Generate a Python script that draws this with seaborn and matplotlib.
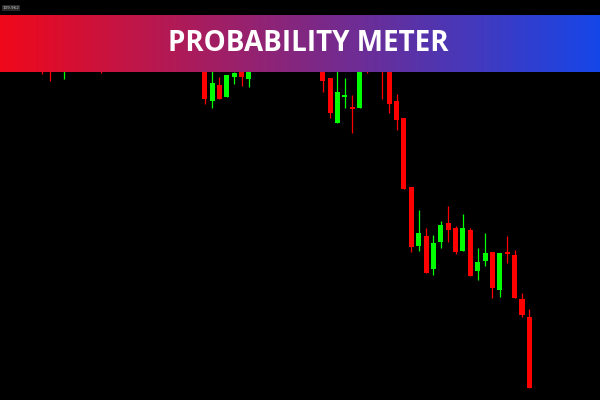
import numpy as np
import pandas as pd
import matplotlib
matplotlib.use("Agg")
import matplotlib.pyplot as plt
import seaborn as sns

# --- candle data (oldest -> newest) ---
opens = [109.60, 109.55, 109.36, 109.32, 109.58, 109.42, 109.62, 109.50, 109.45, 109.36,
         109.50, 109.60, 109.48, 109.62, 109.54, 109.42, 109.55, 109.67, 109.56, 109.45,
         109.58, 109.50, 109.42, 108.99, 109.15, 109.027, 109.232, 109.34, 109.21, 109.34,
         109.46, 109.60, 109.50, 109.64, 109.56, 109.48, 109.38, 109.52, 109.40, 109.217,
         108.77, 109.03, 108.93, 108.923, 109.60, 109.36, 109.58, 109.40, 108.993, 108.823,
         108.127, 107.543, 107.64, 107.31, 107.58, 107.77, 107.723, 107.493, 107.703, 107.29,
         107.393, 107.48, 107.10, 107.483, 107.45, 107.007, 106.833]
highs = [109.65, 109.60, 109.55, 109.62, 109.64, 109.68, 109.70, 109.54, 109.50, 109.58,
         109.67, 109.66, 109.72, 109.70, 109.58, 109.62, 109.74, 109.72, 109.60, 109.63,
         109.64, 109.54, 109.48, 109.38, 109.232, 109.25, 109.28, 109.40, 109.38, 109.54,
         109.66, 109.68, 109.72, 109.70, 109.60, 109.52, 109.56, 109.56, 109.46, 109.217,
         109.42, 109.217, 109.05, 109.56, 109.66, 109.64, 109.62, 109.46, 109.063, 108.823,
         108.127, 107.905, 107.72, 107.653, 107.787, 107.943, 107.74, 107.86, 107.72, 107.52,
         107.673, 107.48, 107.47, 107.64, 107.50, 107.073, 106.907]
lows = [109.26, 109.193, 109.32, 109.21, 109.40, 109.38, 109.42, 109.33, 109.275, 109.32,
        109.45, 109.44, 109.43, 109.48, 109.37, 109.38, 109.50, 109.52, 109.40, 109.40,
        109.44, 109.36, 108.957, 108.923, 109.01, 109.027, 109.16, 109.14, 109.127, 109.32,
        109.42, 109.45, 109.46, 109.50, 109.43, 109.35, 109.34, 109.33, 109.077, 108.817,
        108.77, 108.923, 108.67, 108.923, 109.275, 109.32, 109.01, 108.87, 108.703, 108.11,
        107.477, 107.495, 107.27, 107.25, 107.523, 107.58, 107.463, 107.493, 107.24, 107.20,
        107.343, 107.02, 107.033, 107.373, 107.02, 106.833, 106.123]
closes = [109.32, 109.34, 109.50, 109.55, 109.45, 109.60, 109.48, 109.37, 109.34, 109.52,
          109.62, 109.50, 109.64, 109.54, 109.42, 109.56, 109.68, 109.56, 109.46, 109.58,
          109.50, 109.42, 109.01, 109.167, 109.01, 109.25, 109.27, 109.232, 109.32, 109.48,
          109.60, 109.50, 109.64, 109.56, 109.48, 109.40, 109.52, 109.40, 109.193, 108.87,
          109.083, 109.05, 108.91, 109.50, 109.38, 109.58, 109.36, 108.963, 108.803, 108.11,
          107.527, 107.67, 107.27, 107.57, 107.753, 107.70, 107.477, 107.72, 107.24, 107.38,
          107.47, 107.12, 107.47, 107.463, 107.02, 106.85, 106.123]
last_price_label = "109.962"
title = "PROBABILITY METER"

df = pd.DataFrame({"open": opens, "high": highs, "low": lows, "close": closes})
df["idx"] = np.arange(len(df))
df["up"] = df["close"] >= df["open"]
df["color"] = np.where(df["up"], "#00FF00", "#FF0000")

sns.set_theme(style="dark", rc={"axes.facecolor": "black", "figure.facecolor": "black"})

fig = plt.figure(figsize=(6, 4), dpi=100)
ax = fig.add_axes([0, 0, 1, 1])
ax.set_facecolor("black")

# wicks then bodies
ax.vlines(df["idx"], df["low"], df["high"], colors=df["color"], linewidth=0.9)
body_bottom = df[["open", "close"]].min(axis=1)
body_height = (df["close"] - df["open"]).abs()
ax.bar(df["idx"], body_height, bottom=body_bottom, width=0.68,
       color=df["color"], linewidth=0)

ax.set_xlim(-5.73, 75.57)
ax.set_ylim(106.0, 110.0)
ax.set_xticks([])
ax.set_yticks([])
for s in ax.spines.values():
    s.set_visible(False)

ax.text(0.004, 0.985, last_price_label, transform=ax.transAxes, fontsize=3,
        color="#c8c8c8", va="top", ha="left",
        bbox=dict(boxstyle="square,pad=0.2", fc="#2a2a2a", ec="none"))

# gradient banner
bax = fig.add_axes([0, 1 - 71.7 / 400, 1, (71.7 - 14.5) / 400])
left = np.array([240, 8, 26]) / 255
right = np.array([22, 70, 232]) / 255
t = np.linspace(0, 1, 600)[:, None]
grad = (1 - t) * left + t * right
bax.imshow(grad[None, :, :], aspect="auto", extent=[0, 1, 0, 1])
bax.set_axis_off()
bax.text(0.513, 0.5, title, transform=bax.transAxes, ha="center", va="center",
         color="white", fontsize=20, fontweight="bold", family="Open Sans")

fig.savefig("out.png", dpi=100, facecolor="black")
